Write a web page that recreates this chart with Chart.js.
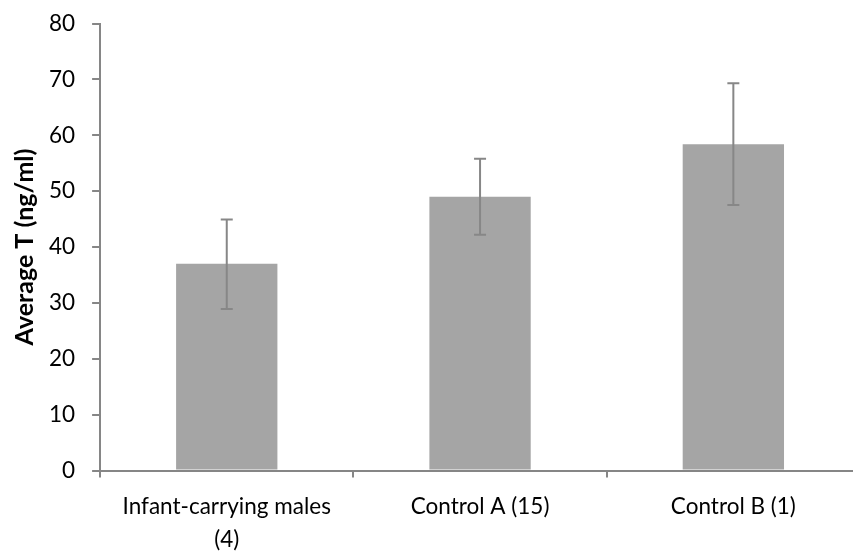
<!DOCTYPE html>
<html lang="en">
<head>
    <meta charset="UTF-8">
    <title>Average T</title>
    <style>
        body { margin: 0; overflow: hidden; background: #fff; }
        #wrap { width: 866px; height: 558px; margin-top: -7px; }
    </style>
    <script src="https://cdn.jsdelivr.net/npm/chart.js@4.4.0/dist/chart.umd.min.js"></script>
</head>
<body>
    <div id="wrap"><canvas id="myChart" width="866" height="558"></canvas></div>
    <script>
        // data
        const groups = [["Infant-carrying males", "(4)"], "Control A (15)", "Control B (1)"];
        const meanT = [37, 49, 58.4];
        const errLow = [28.9, 42.2, 47.5];
        const errHigh = [44.9, 55.8, 69.3];
        const yTicks = [0, 10, 20, 30, 40, 50, 60, 70, 80];

        const axisColor = "#868686";
        const fontFam = "Lato, 'Open Sans', sans-serif";

        // whiskers drawn from the y scale
        const errorBars = {
            id: "errorBars",
            afterDatasetsDraw(chart) {
                const ctx = chart.ctx;
                const meta = chart.getDatasetMeta(0);
                const y = chart.scales.y;
                ctx.save();
                ctx.strokeStyle = "#878787";
                ctx.lineWidth = 2;
                meta.data.forEach(function (bar, i) {
                    const x = bar.x;
                    const top = y.getPixelForValue(errHigh[i]);
                    const bot = y.getPixelForValue(errLow[i]);
                    ctx.beginPath();
                    ctx.moveTo(x, top); ctx.lineTo(x, bot);
                    ctx.moveTo(x - 6, top); ctx.lineTo(x + 6, top);
                    ctx.moveTo(x - 6, bot); ctx.lineTo(x + 6, bot);
                    ctx.stroke();
                });
                ctx.restore();
            }
        };

        const ctx = document.getElementById("myChart").getContext("2d");
        new Chart(ctx, {
            type: "bar",
            data: {
                labels: groups,
                datasets: [{
                    data: meanT,
                    backgroundColor: "#a5a5a5",
                    categoryPercentage: 1,
                    barPercentage: 0.4
                }]
            },
            options: {
                responsive: false,
                animation: false,
                layout: { padding: { top: 0, right: 6, left: 10, bottom: -18 } },
                plugins: {
                    legend: { display: false },
                    tooltip: { enabled: false }
                },
                scales: {
                    x: {
                        grid: {
                            display: true,
                            drawOnChartArea: false,
                            drawTicks: true,
                            tickLength: 7,
                            color: axisColor,
                            lineWidth: 2,
                            offset: true
                        },
                        border: { display: true, color: axisColor, width: 2 },
                        ticks: {
                            color: "#000",
                            font: { family: fontFam, size: 22.5, lineHeight: 1.5 },
                            maxRotation: 0,
                            padding: 12
                        }
                    },
                    y: {
                        min: 0,
                        max: 80,
                        afterBuildTicks: function (axis) {
                            axis.ticks = yTicks.map(function (v) { return { value: v }; });
                        },
                        grid: {
                            display: true,
                            drawOnChartArea: false,
                            drawTicks: true,
                            tickLength: 8,
                            color: axisColor,
                            lineWidth: 2
                        },
                        border: { display: true, color: axisColor, width: 2 },
                        ticks: {
                            color: "#000",
                            font: { family: fontFam, size: 22.5 },
                            padding: 17
                        },
                        title: {
                            display: true,
                            text: "Average T (ng/ml)",
                            color: "#000",
                            font: { family: fontFam, size: 25, weight: "bold" },
                            padding: { top: 0, bottom: -8 }
                        }
                    }
                }
            },
            plugins: [errorBars]
        });
    </script>
</body>
</html>
